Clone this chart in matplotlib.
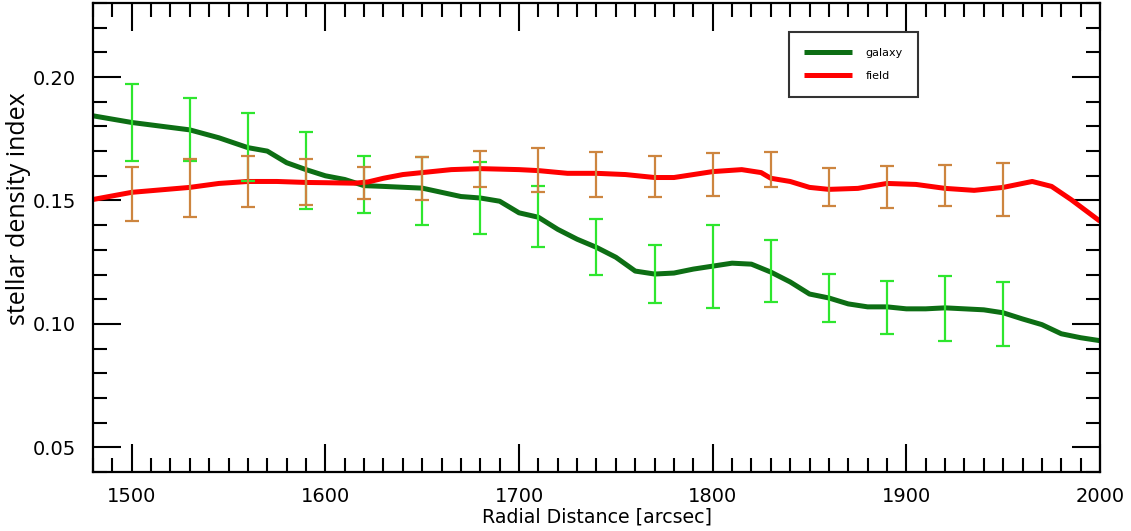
import matplotlib
matplotlib.use("Agg")
import matplotlib.pyplot as plt
from matplotlib.ticker import MultipleLocator

# galaxy curve
gal_x = [1480, 1500, 1530, 1545, 1560, 1570, 1580, 1590, 1600, 1610, 1620, 1630,
         1650, 1670, 1680, 1690, 1700, 1710, 1720, 1730, 1740, 1750, 1760, 1770,
         1780, 1790, 1800, 1810, 1820, 1830, 1840, 1850, 1860, 1870, 1880, 1890,
         1900, 1910, 1920, 1930, 1940, 1950, 1960, 1970, 1980, 1990, 2000]
gal_y = [0.1843, 0.1816, 0.1786, 0.1754, 0.1714, 0.1700, 0.1653, 0.1625, 0.1600,
         0.1585, 0.1560, 0.1557, 0.1550, 0.1516, 0.1510, 0.1497, 0.1450, 0.1432,
         0.1383, 0.1343, 0.1310, 0.1270, 0.1214, 0.1202, 0.1206, 0.1222, 0.1234,
         0.1246, 0.1242, 0.1210, 0.1170, 0.1121, 0.1105, 0.1081, 0.1069, 0.1069,
         0.1061, 0.1061, 0.1065, 0.1061, 0.1057, 0.1045, 0.1020, 0.0997, 0.0960,
         0.0944, 0.0932]

# field curve
fld_x = [1480, 1500, 1530, 1545, 1560, 1575, 1590, 1600, 1615, 1622, 1630, 1640,
         1650, 1665, 1680, 1700, 1710, 1725, 1740, 1755, 1770, 1780, 1790, 1800,
         1815, 1825, 1830, 1840, 1850, 1860, 1875, 1890, 1905, 1920, 1935, 1950,
         1965, 1975, 1985, 2000]
fld_y = [0.1504, 0.1533, 0.1553, 0.1569, 0.1577, 0.1577, 0.1573, 0.1572, 0.1570,
         0.1575, 0.1590, 0.1605, 0.1613, 0.1625, 0.1629, 0.1625, 0.1621, 0.1610,
         0.1610, 0.1605, 0.1593, 0.1593, 0.1605, 0.1617, 0.1625, 0.1613, 0.1590,
         0.1577, 0.1553, 0.1545, 0.1549, 0.1569, 0.1565, 0.1549, 0.1541, 0.1553,
         0.1577, 0.1557, 0.1504, 0.1416]

# error bar positions
err_x = [1500, 1530, 1560, 1590, 1620, 1650, 1680, 1710, 1740, 1770, 1800, 1830,
         1860, 1890, 1920, 1950]
gal_err_lo = [0.1661, 0.1661, 0.1580, 0.1464, 0.1448, 0.1400, 0.1363, 0.1310,
              0.1198, 0.1085, 0.1065, 0.1089, 0.1009, 0.0960, 0.0932, 0.0912]
gal_err_hi = [0.1972, 0.1917, 0.1855, 0.1778, 0.1682, 0.1678, 0.1657, 0.1557,
              0.1424, 0.1319, 0.1400, 0.1339, 0.1202, 0.1174, 0.1194, 0.1170]
fld_err_lo = [0.1416, 0.1432, 0.1472, 0.1480, 0.1504, 0.1500, 0.1553, 0.1536,
              0.1516, 0.1516, 0.1520, 0.1553, 0.1476, 0.1468, 0.1476, 0.1436]
fld_err_hi = [0.1637, 0.1669, 0.1682, 0.1669, 0.1637, 0.1678, 0.1702, 0.1714,
              0.1698, 0.1682, 0.1694, 0.1698, 0.1633, 0.1641, 0.1645, 0.1653]

GAL_C = "#0d6e14"
FLD_C = "#ff0000"
GAL_E = "#2ee62e"
FLD_E = "#cd853f"

fig = plt.figure(figsize=(11.31, 5.31), dpi=100)
ax = fig.add_axes([93 / 1131, 1 - 472 / 531, (1100 - 93) / 1131, (472 - 3) / 531])

ax.plot(gal_x, gal_y, color=GAL_C, lw=3.6, label="galaxy", zorder=2,
        solid_capstyle="butt")
ax.plot(fld_x, fld_y, color=FLD_C, lw=3.6, label="field", zorder=2,
        solid_capstyle="butt")

def draw_err(xs, lo, hi, color, z):
    mid = [(a + b) / 2 for a, b in zip(lo, hi)]
    yerr = [[m - a for m, a in zip(mid, lo)], [b - m for m, b in zip(mid, hi)]]
    ax.errorbar(xs, mid, yerr=yerr, fmt="none", ecolor=color, elinewidth=1.6,
                capsize=5.2, capthick=1.6, zorder=z)

draw_err(err_x, gal_err_lo, gal_err_hi, GAL_E, 3)
draw_err(err_x, fld_err_lo, fld_err_hi, FLD_E, 4)

ax.set_xlim(1480, 2000)
ax.set_ylim(0.04, 0.23)
ax.xaxis.set_major_locator(MultipleLocator(100))
ax.xaxis.set_minor_locator(MultipleLocator(10))
ax.yaxis.set_major_locator(MultipleLocator(0.05))
ax.yaxis.set_minor_locator(MultipleLocator(0.01))
ax.yaxis.set_major_formatter(plt.FormatStrFormatter("%.2f"))

ax.tick_params(which="both", direction="in", top=True, right=True, width=1.5,
               labelsize=14, colors="black")
ax.tick_params(which="major", length=20)
ax.tick_params(which="minor", length=10)
ax.tick_params(axis="x", which="major", pad=11)
ax.tick_params(axis="y", which="major", pad=12)
for s in ax.spines.values():
    s.set_linewidth(1.6)

ax.set_xlabel("Radial Distance [arcsec]", fontsize=13.7, labelpad=1)
ax.set_ylabel("stellar density index", fontsize=18,
              family=["Open Sans", "DejaVu Sans"])
ax.yaxis.set_label_coords(-0.062, 0.561)

leg = ax.legend(loc="upper left", bbox_to_anchor=(0.691, 0.938), fontsize=8,
                frameon=True, fancybox=False, edgecolor="black",
                handlelength=4.3, handletextpad=1.2, borderpad=1.4,
                labelspacing=1.2, borderaxespad=0)
leg.get_frame().set_linewidth(1.5)

fig.savefig("out.png", dpi=100)
